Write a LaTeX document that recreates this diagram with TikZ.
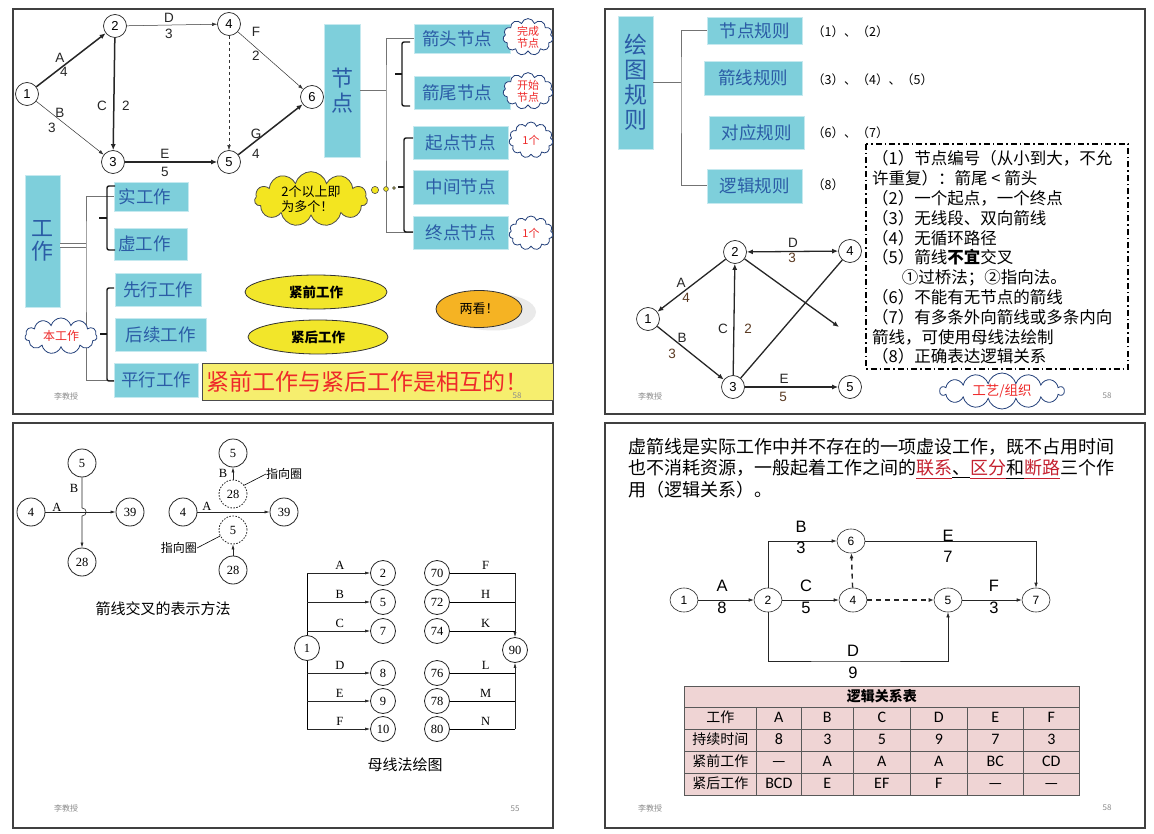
\documentclass[tikz,border=0pt]{standalone}
\usepackage{fontspec}
\setmainfont{Liberation Sans}
\newfontfamily\cjk{Noto Sans CJK SC}
\newfontfamily\oldserif{Liberation Serif}
\newfontfamily\tabfont{Carlito}
\usetikzlibrary{positioning,arrows.meta,shapes.geometric,shapes.symbols,shadows,matrix}
\definecolor{boxcyan}{HTML}{7ECFDB}
\definecolor{boxblue}{HTML}{2B5CA6}
\definecolor{cloudblue}{HTML}{23407A}
\definecolor{cloudyel}{HTML}{F3E520}
\definecolor{ellyel}{HTML}{F2E62A}
\definecolor{orng}{HTML}{F5B323}
\definecolor{noteyel}{HTML}{F6EE6E}
\definecolor{hotred}{HTML}{EE2A2A}
\definecolor{linkred}{HTML}{C4202E}
\definecolor{tabpink}{HTML}{EFD4D4}
\definecolor{numbrown}{HTML}{5A3A22}
\tikzset{
  panel/.style={draw=black!75, line width=1.1pt},
  nd/.style={circle, draw=black!85, line width=0.7pt, fill=white, minimum size=23pt,
             inner sep=0pt, font=\fontsize{13}{13}\selectfont},
  lbl/.style={inner sep=0pt, font=\fontsize{13.5}{13.5}\selectfont, text=black!85},
  numlbl/.style={lbl, text=numbrown},
  fatarr/.style={line width=1.5pt, draw=black!85, -{Latex[length=6pt,width=5pt]}},
  fatline/.style={line width=1.5pt, draw=black!85},
  thinarr/.style={line width=0.5pt, draw=black!80, -{Latex[length=5pt,width=3.5pt]}},
  conn/.style={draw=black!55, line width=1pt},
  brace/.style={draw=black!90, line width=1.4pt, rounded corners=2pt},
  cbox/.style={fill=boxcyan, draw=boxcyan!45!white, line width=0.8pt, text=boxblue,
               inner sep=0pt, font=\cjk\fontsize{17.5}{17.5}\selectfont},
  vbox/.style={cbox, align=center, font=\cjk\fontsize{22}{24.5}\selectfont},
  puff/.style={cloud, cloud puffs=11, cloud ignores aspect, draw=cloudblue, line width=0.8pt,
               fill=white, text=hotred, inner sep=0pt, align=center,
               font=\cjk\fontsize{11}{12}\selectfont},
  oval/.style={ellipse, draw=black!80, line width=0.8pt, fill=ellyel, inner sep=0pt,
               font=\cjk\bfseries\fontsize{13.5}{13.5}\selectfont},
  small/.style={inner sep=0pt, font=\cjk\fontsize{12.5}{12.5}\selectfont, anchor=west},
  foot/.style={inner sep=0pt, font=\cjk\fontsize{8}{8}\selectfont, text=black!45},
  nd3/.style={circle, draw=black!85, line width=0.8pt, fill=white, minimum size=28pt,
              inner sep=0pt, font=\oldserif\fontsize{12.5}{12.5}\selectfont},
  busnd/.style={nd3, minimum size=25pt},
  pointer/.style={nd3, dash pattern=on 1.6pt off 1.4pt},
  slbl/.style={inner sep=0pt, font=\oldserif\fontsize{12.5}{12.5}\selectfont},
  sarr/.style={line width=0.6pt, draw=black!85, -{Latex[length=5pt,width=3pt]}},
  nd4/.style={ellipse, draw=black!85, line width=0.6pt, fill=white, minimum width=28pt,
              minimum height=24pt, inner sep=0pt, font=\fontsize{12}{12}\selectfont},
  glbl/.style={inner sep=0pt, font=\fontsize{16.5}{16.5}\selectfont},
  tarr/.style={line width=0.6pt, draw=black!85, -{Latex[length=5pt,width=3.5pt]}},
  darr/.style={line width=1.4pt, draw=black!85, dash pattern=on 5pt off 4pt,
               -{Latex[length=5pt,width=4pt]}},
  cell/.style={draw=black!65, fill=tabpink, line width=0.6pt, minimum height=22pt,
               text height=11pt, text depth=3pt, anchor=center,
               inner sep=0pt, font=\tabfont\fontsize{16}{16}\selectfont},
}
\begin{document}
\begin{tikzpicture}[x=1pt, y=-1pt]
\useasboundingbox (0,0) rectangle (1154,834);
\fill[white] (0,0) rectangle (1154,834);
% four slides
\draw[panel] (13,9) rectangle (553,414);
\draw[panel] (605,9) rectangle (1145,414);
\draw[panel] (13,423) rectangle (553,828);
\draw[panel] (605,423) rectangle (1145,828);

% ===== slide 1: nodes and works
\node[nd] (a1) at (27,94) {1};
\node[nd] (a2) at (115,26) {2};
\node[nd] (a3) at (113,162) {3};
\node[nd] (a4) at (229,24) {4};
\node[nd] (a5) at (229,162) {5};
\node[nd] (a6) at (312,97) {6};
\draw[fatarr] (a1) -- (a2);
\draw[thinarr] (a1) -- (a3);
\draw[fatarr] (a2) -- (a3);
\draw[thinarr] (a2) -- (a4);
\draw[thinarr, dashed] (a4) -- (a5);
\draw[thinarr] (a4) -- (a6);
\draw[fatarr] (a3) -- (a5);
\draw[fatarr] (a5) -- (a6);
\node[lbl] (aA) at (60,58) {A};
\node[lbl] (aA2) at (64,72) {4};
\node[lbl] (aB) at (60,113) {B};
\node[lbl] (aB2) at (52,128) {3};
\node[lbl] (aC) at (102,106) {C};
\node[lbl] (aC2) at (126,106) {2};
\node[lbl] (aD) at (169,18) {D};
\node[lbl] (aD2) at (169,34) {3};
\node[lbl] (aF) at (256,32) {F};
\node[lbl] (aF2) at (256,56) {2};
\node[lbl] (aE) at (165,154) {E};
\node[lbl] (aE2) at (165,172) {5};
\node[lbl] (aG) at (256,134) {G};
\node[lbl] (aG2) at (256,154) {4};

\node[vbox, minimum width=36pt, minimum height=133pt] (jd) at (342,90.5) {节\\点};
\node[cbox, minimum width=96pt, minimum height=29pt] (jt) at (462,38.5) {箭头节点\hspace*{10pt}};
\node[cbox, minimum width=96pt, minimum height=33pt] (jw) at (462,92.5) {箭尾节点\hspace*{10pt}};
\node[cbox, minimum width=95pt, minimum height=33pt] (qd) at (460.5,142.5) {起点节点};
\node[cbox, minimum width=95pt, minimum height=34pt] (zj) at (460.5,187) {中间节点};
\node[cbox, minimum width=95pt, minimum height=33pt] (zd) at (460.5,232.5) {终点节点};
\coordinate (k1) at (386,90.5);
\draw[conn] (jd.east) -- (k1);
\draw[conn] (jt.west) -| (k1) |- (zd.west);
\draw[brace] (410,42) -- (402,42) -- (402,106) -- (410,106);
\draw[brace] (402,74) -- (395,74);
\draw[brace] (413,138) -- (404,138) -- (404,232) -- (413,232);
\draw[brace] (404,187) -- (398,187);
\node[puff, minimum width=50pt, minimum height=36pt] (wc) at (528,37) {完成\\节点};
\node[puff, minimum width=50pt, minimum height=35pt] (ks) at (528,91) {开始\\节点};
\node[puff, minimum width=44pt, minimum height=36pt] (yg1) at (531,140) {1个};
\node[puff, minimum width=44pt, minimum height=34pt] (yg2) at (531,233) {1个};
\node[puff, fill=cloudyel, draw=black!70, text=black, align=left, minimum width=113pt,
      minimum height=44pt, font=\cjk\fontsize{13}{15}\selectfont] (dg) at (311,199)
      {2个以上即\\为多个！};
\fill[cloudyel, draw=black!70, line width=0.6pt] (375,190) circle (3.6pt);
\fill[cloudyel, draw=black!70, line width=0.6pt] (386,189) circle (2.4pt);
\fill[cloudyel, draw=black!70, line width=0.6pt] (394,188) circle (1.4pt);

\node[vbox, minimum width=35pt, minimum height=132pt, font=\cjk\fontsize{22}{23}\selectfont] (gz) at (42.5,241) {工\\作};
\node[cbox, minimum width=74pt, minimum height=29pt] (sg) at (151,196.5) {实工作\hspace*{12pt}};
\node[cbox, minimum width=73pt, minimum height=32pt] (xg) at (150.5,244) {虚工作\hspace*{12pt}};
\node[cbox, minimum width=86pt, minimum height=33pt] (xx) at (158,289.5) {先行工作};
\node[cbox, minimum width=91pt, minimum height=33pt] (hx) at (160.5,334.5) {后续工作};
\node[cbox, minimum width=84pt, minimum height=34pt] (pxg) at (156,380) {平行工作};
\coordinate (k2) at (86,245.5);
\draw[draw=black!55, line width=0.7pt, double=white, double distance=3pt] (gz.east |- k2) -- (k2);
\draw[conn] (sg.west) -| (k2) |- (pxg.west);
\draw[brace] (115,186) -- (107,186) -- (107,250) -- (115,250);
\draw[brace] (107,218) -- (99,218);
\draw[brace] (114,288) -- (107,288) -- (107,381) -- (114,381);
\draw[brace] (107,334) -- (100,334);
\node[puff, minimum width=72pt, minimum height=36pt, font=\cjk\fontsize{12}{12}\selectfont] (bg) at (61,336) {本工作};
\node[oval, minimum width=142pt, minimum height=34pt] (jq) at (316,292) {紧前工作};
\node[oval, minimum width=140pt, minimum height=34pt] (jh) at (318,337) {紧后工作};
\node[ellipse, draw=black!80, line width=0.8pt, fill=orng, minimum width=86pt, minimum height=37pt,
      inner sep=0pt, font=\cjk\fontsize{13}{13}\selectfont,
      drop shadow={shadow xshift=14pt, shadow yshift=-3pt, fill=black!16}] (lk) at (479,309) {两看！};
\node[fill=noteyel, draw=black!70, line width=0.8pt, minimum width=351pt, minimum height=37pt,
      inner sep=0pt, text=hotred, font=\cjk\fontsize{23}{23}\selectfont] (xh) at (377.5,381.5)
      {紧前工作与紧后工作是相互的！\hspace*{20pt}};
\node[foot] (f1) at (66,396) {李教授};
\node[foot] (n1) at (517,396) {58};

% ===== slide 2: drawing rules
\node[vbox, minimum width=35pt, minimum height=133pt, font=\cjk\fontsize{23}{25}\selectfont] (ht) at (635.5,82.5) {绘\\图\\规\\则};
\node[cbox, minimum width=95pt, minimum height=27pt] (jdgz) at (754.5,30.5) {节点规则};
\node[cbox, minimum width=98pt, minimum height=34pt] (jxgz) at (753,78) {箭线规则};
\node[cbox, minimum width=95pt, minimum height=33pt] (dygz) at (756.5,132.5) {对应规则};
\node[cbox, minimum width=95pt, minimum height=34pt] (ljgz) at (754.5,186) {逻辑规则};
\coordinate (k3) at (681,82.5);
\draw[conn] (ht.east) -- (k3);
\draw[conn] (jdgz.west) -| (k3) |- (ljgz.west);
\node[small] (r1) at (812,32) {（1）、（2）};
\node[small] (r2) at (812,80) {（3）、（4）、（5）};
\node[small] (r3) at (812,133) {（6）、（7）};
\node[small] (r4) at (812,185) {（8）};
\draw[line width=1.6pt, dash pattern=on 6pt off 3pt on 1.5pt off 3pt] (866,144) rectangle (1128,369);
\node[anchor=north west, inner sep=0pt, align=left, font=\cjk\fontsize{16.5}{19.8}\selectfont] (rl) at (872,150.5)
  {（1）节点编号（从小到大，不允\\
   许重复）：箭尾 < 箭头\\
   （2）一个起点，一个终点\\
   （3）无线段、双向箭线\\
   （4）无循环路径\\
   （5）箭线\textbf{不宜}交叉\\
   \hspace*{1.8em}①过桥法；②指向法。\\
   （6）不能有无节点的箭线\\
   （7）有多条外向箭线或多条内向\\
   箭线，可使用母线法绘制\\
   （8）正确表达逻辑关系};
\node[puff, minimum width=124pt, minimum height=36pt, cloud puffs=14, font=\cjk\fontsize{13.5}{13.5}\selectfont] (gy) at (1002,391) {工艺/组织};

\node[nd] (b1) at (648,319) {1};
\node[nd] (b2) at (735,252) {2};
\node[nd] (b3) at (733,387) {3};
\node[nd] (b4) at (850,251) {4};
\node[nd] (b5) at (850,387) {5};
\coordinate (bx) at (839,327);
\draw[fatarr, line width=1.3pt] (b2) -- (b1);
\draw[fatarr, line width=1.3pt] (b1) -- (b3);
\draw[fatarr, line width=1.3pt] (b3) -- (b2);
\draw[fatarr, line width=1.3pt, {Latex[length=6pt,width=5pt]}-{Latex[length=6pt,width=5pt]}] (b2) -- (b4);
\draw[fatline, line width=1.3pt] (b3) -- (b4);
\draw[fatarr, line width=1.3pt] (b2) -- (bx);
\draw[fatarr, line width=1.3pt] (b3) -- (b5);
\node[lbl] (bA) at (681,283) {A};
\node[numlbl] (bA2) at (686,298) {4};
\node[lbl] (bB) at (682,338) {B};
\node[numlbl] (bB2) at (672,354) {3};
\node[lbl] (bC) at (723,329) {C};
\node[numlbl] (bC2) at (748,329) {2};
\node[lbl] (bD) at (793,243) {D};
\node[numlbl] (bD2) at (792,258) {3};
\node[lbl] (bE) at (784,379) {E};
\node[numlbl] (bE2) at (783,397) {5};
\node[foot] (f2) at (650,396) {李教授};
\node[foot] (n2) at (1107,396) {58};

% ===== slide 3: crossing and bus lines
\node[nd3] (c5) at (82,463) {5};
\node[nd3] (c4) at (31,512) {4};
\node[nd3] (c39) at (130,512) {39};
\node[nd3] (c28) at (82,562) {28};
\draw[sarr] (c4) -- (c39);
\draw[sarr] (c5.south) -- (82,508) .. controls (87.5,508) and (87.5,516) .. (82,516) -- (c28.north);
\node[slbl] (cA) at (57,507) {A};
\node[slbl] (cB) at (74,488) {B};

\node[nd3] (d5) at (233,453) {5};
\node[pointer] (d28) at (233,494) {28};
\node[nd3] (d4) at (183,512) {4};
\node[nd3] (d39) at (284,512) {39};
\node[pointer] (d5b) at (233,530) {5};
\node[nd3] (d28b) at (233,570) {28};
\draw[sarr] (d28) -- (d5);
\draw[sarr] (d28b) -- (d5b);
\draw[sarr] (d4) -- (d39);
\node[slbl] (dA) at (207,506) {A};
\node[slbl] (dB) at (223,473) {B};
\node[inner sep=0pt, anchor=west, font=\cjk\fontsize{12}{12}\selectfont] (zx1) at (266,474) {指向圈};
\node[inner sep=0pt, anchor=east, font=\cjk\fontsize{12}{12}\selectfont] (zx2) at (197,548) {指向圈};
\draw[line width=0.6pt] (zx1.west) -- (d28.38);
\draw[line width=0.6pt] (zx2.east) -- (d5b.205);
\node[inner sep=0pt, font=\cjk\fontsize{15}{15}\selectfont] (cap1) at (163,609) {箭线交叉的表示方法};

\node[busnd] (e1) at (307,648) {1};
\foreach \n/\y in {2/573,5/602,7/631,8/673,9/701,10/729}
  \node[busnd] (e\n) at (383,\y) {\n};
\draw[line width=0.6pt] (e1.north) -- (e1.north |- e2);
\draw[line width=0.6pt] (e1.south) -- (e1.south |- e10);
\foreach \n/\l in {2/A,5/B,7/C,8/D,9/E,10/F}
  \draw[sarr] (e1 |- e\n) -- node[slbl, above=3pt, pos=0.52] (el\n) {\l} (e\n);

\node[busnd] (f90) at (515,650) {90};
\foreach \n/\y in {70/573,72/602,74/631,76/673,78/701,80/729}
  \node[busnd] (f\n) at (437,\y) {\n};
\foreach \n/\l in {70/F,72/H,74/K,76/L,78/M,80/N}
  \draw[line width=0.6pt] (f\n) -- node[slbl, above=3pt, pos=0.55] (fl\n) {\l} (f\n -| f90);
\draw[sarr] (f70 -| f90) -- (f90.north);
\draw[sarr] (f80 -| f90) -- (f90.south);
\node[inner sep=0pt, font=\cjk\fontsize{15}{15}\selectfont] (cap2) at (405,765) {母线法绘图};
\node[foot] (f3) at (66,808) {李教授};
\node[foot] (n3) at (515,809) {55};

% ===== slide 4: dummy arrows
\node[anchor=north west, inner sep=0pt, align=left, font=\cjk\fontsize{18}{21.5}\selectfont] (xj) at (628,438)
  {虚箭线是实际工作中并不存在的一项虚设工作，既不占用时间\\
   也不消耗资源，一般起着工作之间的\textcolor{linkred}{\underline{联系}}\underline{、}\textcolor{linkred}{\underline{区分}}\underline{和}\textcolor{linkred}{\underline{断路}}三个作\\
   用（逻辑关系）。};

\node[nd4] (g1) at (684,600) {1};
\node[nd4] (g2) at (768,600) {2};
\node[nd4] (g4) at (853,600) {4};
\node[nd4] (g5) at (948,600) {5};
\node[nd4] (g7) at (1036,600) {7};
\node[nd4] (g6) at (851,541) {6};
\coordinate (gbot) at (853,661);
\draw[tarr] (g1) -- (g2);
\draw[tarr] (g2) -- (g4);
\draw[darr] (g4) -- (g5);
\draw[darr] (g4) -- (g6);
\draw[tarr] (g5) -- (g7);
\draw[tarr] (g2.north) |- (g6.west);
\draw[tarr] (g6.east) -| (g7.north);
\draw[tarr] (g2.south) |- (gbot) -| (g5.south);
\node[glbl] (gA) at (722,586) {A};
\node[glbl] (gA2) at (722,608) {8};
\node[glbl] (gC) at (806,586) {C};
\node[glbl] (gC2) at (806,608) {5};
\node[glbl] (gF) at (994,586) {F};
\node[glbl] (gF2) at (994,608) {3};
\node[glbl] (gB) at (801,527) {B};
\node[glbl] (gB2) at (801,548) {3};
\node[glbl] (gE) at (948,536) {E};
\node[glbl] (gE2) at (948,557) {7};
\node[glbl] (gD) at (853,651) {D};
\node[glbl] (gD2) at (853,673) {9};

\node[cell, minimum width=395pt, anchor=north west, font=\cjk\bfseries\fontsize{14}{14}\selectfont] (ttl) at (684,686) {逻辑关系表};
\matrix[matrix of nodes, anchor=north west, inner sep=0pt, outer sep=0pt,
        column sep=-0.6pt, row sep=-0.6pt, nodes={cell},
        column 1/.style={nodes={minimum width=72pt, font=\cjk\fontsize{14}{14}\selectfont}},
        column 2/.style={nodes={minimum width=45pt}},
        column 3/.style={nodes={minimum width=52pt}},
        column 4/.style={nodes={minimum width=57pt}},
        column 5/.style={nodes={minimum width=57pt}},
        column 6/.style={nodes={minimum width=56pt}},
        column 7/.style={nodes={minimum width=56pt}}] (tab) at (684,707.4) {
  工作 & A & B & C & D & E & F \\
  持续时间 & 8 & 3 & 5 & 9 & 7 & 3 \\
  紧前工作 & — & A & A & A & BC & CD \\
  紧后工作 & BCD & E & EF & F & — & — \\
};
\node[foot] (f4) at (650,808) {李教授};
\node[foot] (n4) at (1107,808) {58};
\end{tikzpicture}
\end{document}
